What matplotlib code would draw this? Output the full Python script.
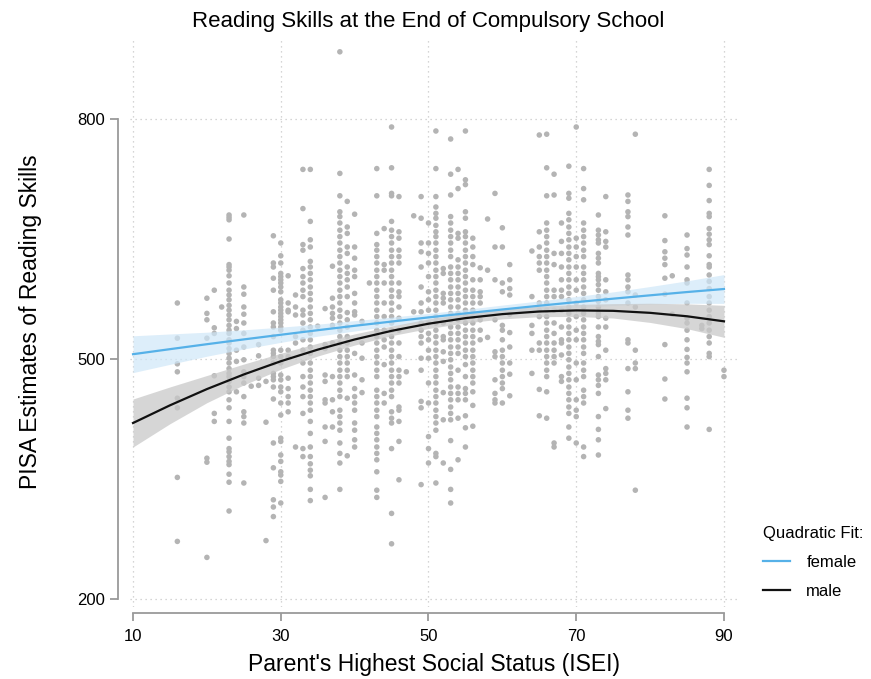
import numpy as np
import matplotlib
matplotlib.use("Agg")
import matplotlib.pyplot as plt
from matplotlib.lines import Line2D

# ---------------------------------------------------------------------------
# data: reading scores grouped by parent ISEI value
# ---------------------------------------------------------------------------

isei_cols = [16, 20, 21, 22, 23, 24, 25, 26, 27, 28, 29, 30, 31, 32, 33, 34, 35,
             36, 37, 38, 39, 40, 41, 42, 43, 44, 45, 46, 47, 48, 49, 50, 51, 52,
             53, 54, 55, 56, 57, 58, 59, 60, 61, 64, 65, 66, 67, 68, 69, 70, 71,
             73, 74, 77, 78, 82, 83, 85, 87, 88, 90]

scores_by_col = [
    [570, 526, 494, 484, 451, 439, 352, 272],
    [576, 557, 549, 526, 376, 371, 252],
    [586, 539, 532, 479, 432, 422],
    [565],
    [680, 677, 674, 650, 618, 615, 611, 604, 595, 586, 580, 574, 567, 561, 555,
     549, 542, 536, 532, 524, 520, 513, 507, 501, 495, 488, 482, 478, 472, 465,
     459, 449, 439, 422, 401, 388, 384, 378, 372, 368, 356, 346, 310],
    [547, 538, 511, 497, 459],
    [680, 590, 581, 565, 556, 545, 532, 515, 499, 484, 478, 470, 453, 434, 428,
     420, 345],
    [466],
    [518, 504, 476, 467],
    [472, 421, 273],
    [654, 620, 615, 601, 586, 559, 545, 540, 528, 511, 507, 503, 495, 482, 478,
     474, 465, 450, 395, 364, 324, 315, 303],
    [645, 629, 620, 607, 603, 599, 595, 590, 584, 574, 570, 565, 561, 557, 553,
     549, 545, 540, 536, 511, 503, 495, 480, 474, 465, 459, 445, 430, 401, 397,
     380, 372, 359, 355, 347, 320],
    [604, 570, 561, 559, 511, 503, 476, 463, 453, 445, 434],
    [580, 565, 555, 528, 520, 390],
    [737, 688, 643, 636, 613, 603, 595, 586, 578, 561, 555, 545, 536, 524, 511,
     495, 478, 465, 453, 432, 388, 378],
    [737, 672, 649, 640, 622, 615, 607, 599, 590, 582, 574, 565, 557, 549, 540,
     532, 524, 515, 507, 495, 486, 478, 470, 461, 453, 445, 436, 422, 407, 390,
     378, 369, 361, 354, 337, 323],
    [541],
    [563, 518, 513, 480, 472, 449, 445, 415, 397, 327],
    [616, 576, 565, 557, 551, 542, 520, 478, 449, 434, 415],
    [884, 732, 704, 684, 678, 670, 661, 653, 645, 636, 628, 620, 611, 603, 595,
     586, 578, 570, 561, 553, 545, 536, 528, 520, 511, 503, 495, 486, 478, 470,
     461, 453, 436, 428, 420, 411, 395, 382, 370, 337],
    [697, 665, 657, 640, 632, 615, 607, 599, 590, 578, 558, 549, 540, 528, 520,
     511, 503, 495, 486, 478, 451, 379],
    [681, 640, 626, 611, 603, 582, 570, 559, 555, 507, 480, 463, 453, 445, 436,
     420, 411, 399, 390],
    [547, 520, 501, 474, 458],
    [595],
    [738, 704, 657, 643, 636, 628, 620, 611, 603, 595, 586, 578, 570, 561, 553,
     545, 536, 528, 520, 511, 503, 495, 486, 478, 461, 453, 445, 436, 428, 415,
     407, 399, 390, 382, 374, 359, 336, 327],
    [663, 618, 611, 595, 570, 553, 536, 524, 515, 493, 457, 445],
    [790, 739, 707, 704, 672, 661, 653, 645, 636, 628, 620, 611, 603, 595, 586,
     578, 570, 561, 553, 545, 536, 528, 520, 511, 503, 495, 486, 478, 470, 461,
     453, 434, 426, 420, 388, 307, 269],
    [703, 659, 651, 636, 628, 620, 595, 584, 578, 565, 551, 536, 520, 503, 486,
     478, 470, 440, 436, 422, 397, 349],
    [484],
    [679, 559],
    [703, 676, 645, 634, 615, 590, 570, 559, 545, 536, 528, 520, 501, 486, 447,
     439, 343],
    [670, 645, 632, 620, 603, 584, 574, 561, 545, 532, 524, 511, 501, 470, 445,
     403, 388, 370],
    [785, 738, 703, 690, 682, 676, 667, 659, 653, 645, 636, 628, 620, 611, 603,
     595, 586, 578, 570, 561, 553, 545, 536, 528, 520, 511, 503, 495, 486, 478,
     470, 461, 453, 445, 436, 428, 420, 411, 382, 378, 345],
    [613, 607, 582, 576, 570, 545, 528, 524, 509, 497, 458, 424, 370],
    [775, 731, 705, 678, 670, 661, 653, 645, 636, 628, 615, 607, 599, 590, 582,
     574, 565, 557, 549, 540, 532, 524, 515, 507, 499, 490, 482, 474, 465, 457,
     449, 440, 432, 424, 398, 362, 337, 320],
    [737, 713, 657, 651, 624, 615, 607, 599, 590, 582, 574, 565, 557, 549, 540,
     532, 524, 515, 507, 486, 465, 457, 449, 426, 374],
    [785, 724, 718, 684, 676, 659, 653, 645, 636, 628, 620, 611, 603, 595, 586,
     578, 570, 561, 553, 545, 536, 528, 520, 511, 503, 493, 478, 463, 457, 449,
     429, 414, 390],
    [651, 640, 628, 618, 599, 586, 578, 570, 561, 553, 545, 536, 528, 520, 511,
     503, 495, 486, 478, 470, 459, 442, 416],
    [614, 599, 584, 578, 570, 549, 536, 524],
    [675, 611, 527],
    [707, 640, 599, 549, 509, 503, 474, 457, 449, 445],
    [664, 640, 595, 584, 542, 536, 524, 511, 503, 495, 486, 478, 470, 463, 445],
    [618, 599, 588, 580, 556, 533, 515, 495, 481, 454],
    [635, 578, 542, 532, 511, 482],
    [780, 659, 640, 628, 620, 611, 570, 561, 553, 520, 511, 462, 429],
    [781, 739, 704, 670, 661, 653, 645, 636, 628, 620, 611, 603, 595, 586, 578,
     570, 561, 553, 545, 536, 528, 520, 511, 503, 495, 486, 478, 459, 426],
    [731, 705, 632, 618, 586, 578, 561, 545, 532, 520, 511, 503, 495, 395, 390],
    [670, 647, 632, 615, 599, 586, 578, 561, 540, 524, 520, 505, 478, 472],
    [741, 707, 701, 682, 674, 665, 657, 649, 640, 632, 624, 615, 607, 599, 590,
     582, 574, 565, 557, 549, 540, 532, 524, 515, 507, 499, 490, 482, 474, 465,
     457, 449, 440, 432, 415, 401],
    [790, 651, 640, 628, 615, 599, 586, 570, 553, 536, 524, 495, 474, 449, 436,
     428, 395],
    [738, 713, 699, 670, 661, 653, 645, 636, 628, 615, 607, 599, 590, 582, 574,
     565, 557, 549, 540, 532, 524, 515, 507, 495, 486, 478, 461, 453, 445, 390,
     378],
    [680, 661, 655, 649, 645, 632, 626, 620, 607, 603, 599, 593, 586, 578, 572,
     565, 557, 553, 540, 528, 522, 518, 503, 480, 474, 467, 457, 428, 412, 399,
     380],
    [703, 659, 647, 640, 599, 584, 574, 551, 540, 511, 488, 482, 474, 438],
    [705, 697, 684, 678, 665, 655, 605, 599, 590, 584, 570, 524, 520, 488, 459,
     436, 426],
    [781, 580, 565, 511, 495, 488, 336],
    [679, 648, 634, 626, 618, 601, 581, 518, 475, 450],
    [604, 556],
    [655, 638, 630, 615, 599, 595, 570, 551, 545, 536, 524, 512, 502, 495, 484,
     451, 439, 415],
    [542, 538],
    [737, 717, 698, 682, 678, 663, 656, 649, 643, 629, 618, 615, 605, 597, 588,
     578, 570, 561, 553, 545, 536, 528, 520, 507, 503, 412],
    [486, 478],
]

# quadratic fits with 95% bands, evaluated on a grid of ISEI values
fit_x = [10, 15, 20, 25, 30, 35, 40, 45, 50, 55, 60, 65, 70, 75, 80, 85, 90]

female_fit = [506.0, 512.3, 518.5, 524.5, 530.3, 536.0, 541.5, 546.8, 552.0,
              557.0, 561.9, 566.6, 571.1, 575.4, 579.6, 583.7, 587.5]
female_lo = [483.0, 493.3, 503.5, 512.5, 520.8, 528.5, 535.0, 541.3, 547.0,
             552.0, 556.4, 560.6, 564.1, 566.9, 568.6, 569.7, 569.5]
female_hi = [529.0, 531.3, 533.5, 536.5, 539.8, 543.5, 548.0, 552.3, 557.0,
             562.0, 567.4, 572.6, 578.1, 583.9, 590.6, 597.7, 605.5]

male_fit = [420.0, 442.1, 462.4, 480.7, 497.2, 511.7, 524.4, 535.2, 544.1,
            551.1, 556.1, 559.4, 560.7, 560.2, 557.7, 553.4, 547.1]
male_lo = [390.0, 419.1, 445.4, 467.7, 487.2, 503.7, 517.4, 529.2, 538.1,
           545.1, 550.1, 552.9, 553.2, 551.2, 545.7, 537.9, 527.1]
male_hi = [450.0, 465.1, 479.4, 493.7, 507.2, 519.7, 531.4, 541.2, 550.1,
           557.1, 562.1, 565.9, 568.2, 569.2, 569.7, 568.9, 567.1]

x_ticks = [10, 30, 50, 70, 90]
y_ticks = [200, 500, 800]

# ---------------------------------------------------------------------------
# style
# ---------------------------------------------------------------------------

plt.rcParams['font.family'] = ['Liberation Sans', 'DejaVu Sans']

FEMALE_COL = '#56B1E8'
MALE_COL = '#111111'
POINT_COL = '#b4b4b4'
AXIS_COL = '#9a9a9a'
GRID_COL = '#c8c8c8'

W, H = 871, 679
fig = plt.figure(figsize=(W / 100, H / 100), dpi=100)

# plotting region in pixels: left 130, right 738, top 37, bottom 607
ax = fig.add_axes([130 / W, 1 - 607 / H, 608 / W, 570 / H])
ax.set_xlim(9.59, 91.9)
ax.set_ylim(190, 902.5)

# scatter
xs = np.concatenate([[x] * len(s) for x, s in zip(isei_cols, scores_by_col)])
ys = np.concatenate(scores_by_col)
ax.scatter(xs, ys, s=16, color=POINT_COL, edgecolors='none', zorder=2)

# confidence bands and fitted curves
ax.fill_between(fit_x, female_lo, female_hi, color='#cfe7f8', alpha=0.7,
                linewidth=0, zorder=3)
ax.fill_between(fit_x, male_lo, male_hi, color='#c9c9c9', alpha=0.75,
                linewidth=0, zorder=3)
ax.plot(fit_x, female_fit, color=FEMALE_COL, linewidth=1.6, zorder=4)
ax.plot(fit_x, male_fit, color=MALE_COL, linewidth=1.6, zorder=4)

# dotted grid
for x in x_ticks:
    ax.axvline(x, color=GRID_COL, linewidth=0.9, linestyle=(0, (1, 3)), zorder=1)
for y in y_ticks:
    ax.axhline(y, color=GRID_COL, linewidth=0.9, linestyle=(0, (1, 3)), zorder=1)

# detached axes
for side in ('top', 'right'):
    ax.spines[side].set_visible(False)
ax.spines['left'].set_position(('outward', 9))
ax.spines['bottom'].set_position(('outward', 4.5))
ax.spines['left'].set_bounds(200, 800)
ax.spines['bottom'].set_bounds(10, 90)
for side in ('left', 'bottom'):
    ax.spines[side].set_color(AXIS_COL)
    ax.spines[side].set_linewidth(1.3)

ax.set_xticks(x_ticks)
ax.set_yticks(y_ticks)
ax.tick_params(axis='both', colors=AXIS_COL, labelcolor='black', length=6,
               width=1.3, labelsize=12)
ax.tick_params(axis='x', pad=5)
ax.tick_params(axis='y', pad=3)

ax.set_xlabel("Parent's Highest Social Status (ISEI)", fontsize=16.5, labelpad=7)
ax.set_ylabel("PISA Estimates of Reading Skills", fontsize=16.5, labelpad=25)
fig.text(428 / W, 1 - 21 / H, "Reading Skills at the End of Compulsory School",
         ha='center', va='center', fontsize=16)

# legend outside the plotting region
handles = [Line2D([], [], color=FEMALE_COL, linewidth=1.6),
           Line2D([], [], color=MALE_COL, linewidth=1.6)]
leg = fig.legend(handles, ['female', 'male'], title='Quadratic Fit:',
                 loc='upper left', bbox_to_anchor=(748 / W, 1 - 511 / H),
                 frameon=False, fontsize=12, title_fontsize=12,
                 handlelength=1.6, labelspacing=0.85, handletextpad=1.0)
leg._legend_box.align = 'left'

fig.savefig('out.png', dpi=100)
